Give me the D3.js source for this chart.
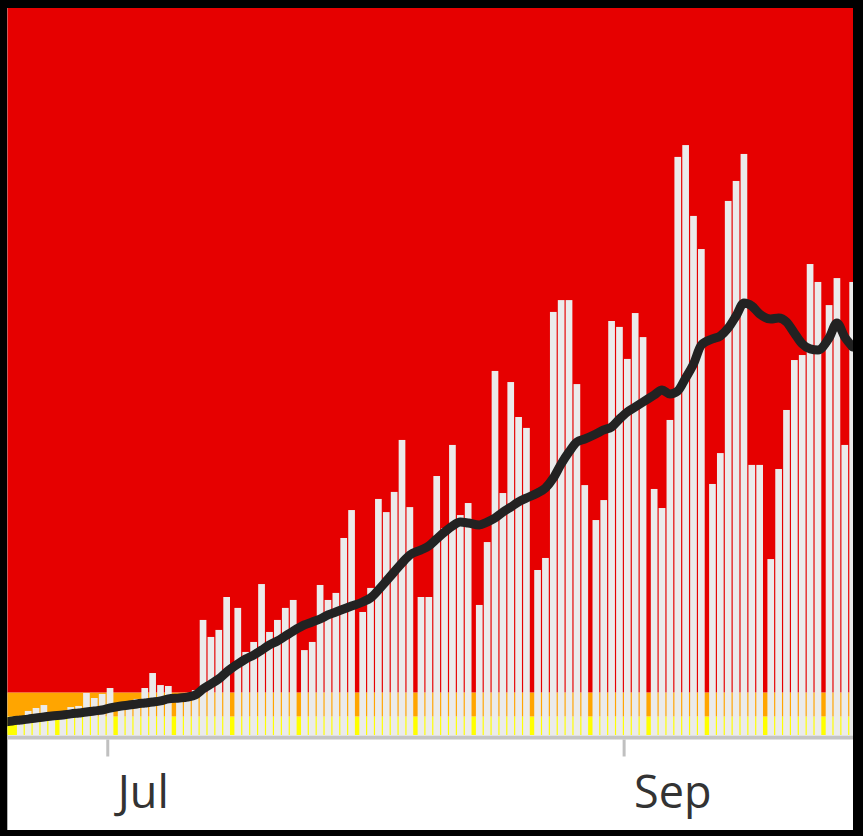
<!DOCTYPE html>
<html>
<head>
<meta charset="utf-8">
<script src="https://cdn.jsdelivr.net/npm/d3@7"></script>
<style>
  html, body { margin: 0; padding: 0; background: #000; }
  svg { display: block; }
</style>
</head>
<body>
<svg id="chart" width="863" height="836"></svg>
<script>
// ---------------- DATA ----------------
const firstDay = "2020-06-18";
// daily new cases (null = no bar)
const dailyCases = [
  null, null, 9.2, 13.0, 14.6, 16.2, 11.4,            // Jun 18-24
  11.4, 15.1, 15.7, 22.7, 20.0, 22.2, 25.4,          // Jun 25-Jul 1
  17.8, 17.8, 19.5, 25.4, 33.5, 27.0, 26.5,          // Jul 2-8
  18.9, 20.5, 24.3, 62.2, 53.0, 56.8, 74.6,          // Jul 9-15
  68.7, 44.9, 50.3, 81.6, 55.7, 62.2, 68.7, 73.0,    // Jul 16-23
  45.9, 50.3, 81.1, 73.0, 76.8, 106.5, 121.6,        // Jul 24-30
  66.5, 79.5, 127.6, 120.5, 131.4, 159.5, 123.2,     // Jul 31-Aug 6
  74.6, 74.6, 140.0, 111.9, 156.8, 118.9, 125.4,     // Aug 7-13
  70.3, 104.3, 196.8, 130.8, 190.8, 171.9, 166.0,    // Aug 14-20
  89.2, 95.7, 228.7, 235.1, 235.1, 189.7, 135.1,     // Aug 21-27
  116.2, 127.0, 223.8, 220.6, 203.3, 228.1, 215.1,   // Aug 28-Sep 3
  133.0, 122.7, 170.3, 312.5, 318.9, 280.6, 262.7,   // Sep 4-10
  135.7, 152.4, 288.7, 299.5, 314.1, 146.0, 146.0,   // Sep 11-17
  95.1, 143.8, 175.7, 202.7, 205.4, 254.6, 244.9,    // Sep 18-24
  232.4, 247.0, 156.8, 244.9                         // Sep 25-28
];
// 7-day average
const avg7 = [
  7.0, 7.6, 8.1, 8.6, 9.2, 9.7, 10.3,
  10.8, 11.4, 11.9, 12.4, 13.0, 13.5, 14.6,
  15.7, 16.2, 16.8, 17.3, 17.8, 18.4, 19.5,
  20.0, 20.5, 21.6, 24.9, 27.6, 30.3, 34.1,
  38.4, 41.1, 43.2, 45.9, 48.7, 50.8, 53.5, 56.2,
  59.5, 61.1, 62.7, 64.9, 66.5, 68.1, 69.7,
  71.9, 74.1, 78.4, 83.2, 88.1, 93.0, 97.3,
  100.0, 102.2, 106.0, 109.7, 113.0, 115.1, 114.6,
  113.5, 115.1, 117.3, 120.5, 123.2, 126.0, 128.1,
  130.8, 133.5, 138.9, 146.5, 153.0, 158.4, 160.0,
  162.7, 164.9, 166.5, 170.8, 174.6, 177.3, 180.0,
  183.8, 186.5, 184.3, 186.0, 193.0, 200.5, 210.8,
  214.1, 215.7, 220.0, 226.5, 233.5, 231.9, 227.6,
  224.9, 225.4, 223.3, 217.3, 211.4, 208.7, 208.1,
  214.6, 222.7, 215.1, 209.7
];
// reporting groups (bars are grouped, with a wider gap between groups)
const groupStarts = [
  "2020-06-18", "2020-06-25", "2020-07-02", "2020-07-09", "2020-07-16",
  "2020-07-24", "2020-07-31", "2020-08-07", "2020-08-14", "2020-08-21",
  "2020-08-28", "2020-09-04", "2020-09-11", "2020-09-18", "2020-09-25",
  "2020-10-02"
];
const tickDates = ["2020-07-01", "2020-09-01"];
const levelThresholds = [0, 10, 23, 393];
const levelColors = ["#ffff00", "#ffa500", "#e60000"];

// ---------------- CHART ----------------
const W = 863, H = 836;
const frame = { left: 7.3, top: 8, right: 853, bottom: 830 };
const plot = { left: 7.3, top: 8, right: 853, bottom: 735 };

const parse = d3.timeParse("%Y-%m-%d");
const svg = d3.select("#chart");

svg.append("rect").attr("width", W).attr("height", H).attr("fill", "#000");
svg.append("rect")
  .attr("x", frame.left).attr("y", frame.top)
  .attr("width", frame.right - frame.left).attr("height", frame.bottom - frame.top)
  .attr("fill", "#fff");

const x = d3.scaleTime()
  .domain([parse("2020-07-02"), parse("2020-09-25")])
  .range([115.6, 823.5]);
const y = d3.scaleLinear().domain([0, 393]).range([plot.bottom, plot.top]);

svg.append("clipPath").attr("id", "clip")
  .append("rect")
  .attr("x", plot.left).attr("y", plot.top)
  .attr("width", plot.right - plot.left).attr("height", plot.bottom - plot.top);

const g = svg.append("g").attr("clip-path", "url(#clip)");

// background level bands
const bands = levelColors.map((c, i) => ({ lo: levelThresholds[i], hi: levelThresholds[i + 1], color: c }));
g.selectAll("rect.band").data(bands).join("rect")
  .attr("class", "band")
  .attr("x", plot.left).attr("width", plot.right - plot.left)
  .attr("y", d => y(d.hi)).attr("height", d => y(d.lo) - y(d.hi))
  .attr("fill", d => d.color);

// groups with inner band scales
const groups = groupStarts.slice(0, -1).map((s, i) => {
  const start = parse(s), end = parse(groupStarts[i + 1]);
  const ds = d3.timeDay.range(start, end);
  const band = d3.scaleBand()
    .domain(ds.map(d => +d))
    .range([x(start), x(end)])
    .paddingInner(0.15)
    .paddingOuter(0.28);
  return { start, end, band };
});

const first = parse(firstDay);
const days = dailyCases.map((v, i) => {
  const date = d3.timeDay.offset(first, i);
  const grp = groups.find(gr => date >= gr.start && date < gr.end);
  const x0 = grp.band(+d3.timeDay.floor(date));
  const w = grp.band.bandwidth();
  return { date, cases: v, avg: avg7[i], x0, w, cx: x0 + w / 2 };
});

g.selectAll("rect.bar").data(days.filter(d => d.cases != null)).join("rect")
  .attr("class", "bar")
  .attr("x", d => d.x0).attr("width", d => d.w)
  .attr("y", d => y(d.cases)).attr("height", d => y(0) - y(d.cases))
  .attr("fill", "#ebebeb");

const line = d3.line().x(d => d.cx).y(d => y(d.avg)).curve(d3.curveMonotoneX);
g.append("path").datum(days)
  .attr("d", line)
  .attr("fill", "none")
  .attr("stroke", "#222")
  .attr("stroke-width", 9)
  .attr("stroke-linejoin", "round")
  .attr("stroke-linecap", "round");

// axis
svg.append("line")
  .attr("x1", plot.left).attr("x2", plot.right)
  .attr("y1", 737.5).attr("y2", 737.5)
  .attr("stroke", "#c4c4c4").attr("stroke-width", 4);

const axis = d3.axisBottom(x)
  .tickValues(tickDates.map(parse))
  .tickFormat(d3.timeFormat("%b"))
  .tickSizeOuter(0)
  .tickSize(17);
const ax = svg.append("g").attr("transform", "translate(0,739.5)").call(axis);
ax.select(".domain").remove();
ax.selectAll(".tick line").attr("stroke", "#c0c0c0").attr("stroke-width", 3);
ax.selectAll(".tick text")
  .attr("fill", "#333")
  .attr("font-family", "'Open Sans', 'Noto Sans', sans-serif")
  .attr("font-size", 45)
  .attr("text-anchor", "start")
  .attr("dx", 10)
  .attr("y", 68.5)
  .attr("dy", 0);
</script>
</body>
</html>
